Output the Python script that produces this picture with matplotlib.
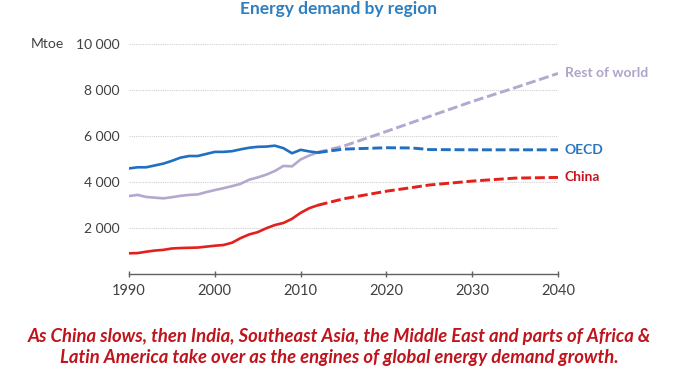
import matplotlib
matplotlib.use("Agg")
import matplotlib.pyplot as plt

# ---- data ----
hist_years = list(range(1990, 2013))
oecd_hist = [4590, 4640, 4640, 4720, 4800, 4920, 5060, 5130, 5130, 5220, 5310, 5310,
             5340, 5420, 5490, 5530, 5540, 5580, 5470, 5250, 5400, 5330, 5280]
row_hist = [3390, 3440, 3350, 3320, 3290, 3340, 3400, 3440, 3460, 3560, 3650, 3730,
            3820, 3920, 4100, 4200, 4320, 4480, 4700, 4680, 4980, 5150, 5290]
china_hist = [900, 910, 970, 1020, 1050, 1110, 1130, 1140, 1150, 1190, 1230, 1260,
              1360, 1560, 1720, 1820, 1990, 2130, 2220, 2400, 2660, 2860, 2990]

proj_years = [2012, 2015, 2020, 2023, 2025, 2030, 2035, 2040]
oecd_proj = [5280, 5430, 5490, 5480, 5410, 5400, 5400, 5400]
row_proj = [5290, 5560, 6200, 6590, 6850, 7500, 8100, 8720]
china_proj = [2990, 3270, 3600, 3760, 3870, 4040, 4170, 4200]

series_names = ["Rest of world", "OECD", "China"]
x_ticks = [1990, 2000, 2010, 2020, 2030, 2040]
y_ticks = [2000, 4000, 6000, 8000, 10000]
y_tick_labels = ["2 000", "4 000", "6 000", "8 000", "10 000"]

title = "Energy demand by region"
caption = ("As China slows, then India, Southeast Asia, the Middle East and parts of Africa &\n"
           "Latin America take over as the engines of global energy demand growth.")

plt.rcParams['font.family'] = ['Lato', 'DejaVu Sans']

c_oecd = "#1f6fc2"
c_row = "#b4a7d0"
c_china = "#e3201b"

fig = plt.figure(figsize=(6.78, 3.81), dpi=100)
ax = fig.add_axes([0.1903, 0.2808, 0.6327, 0.6037])

for yrs, vals, pv, col in [(hist_years, row_hist, row_proj, c_row),
                           (hist_years, oecd_hist, oecd_proj, c_oecd),
                           (hist_years, china_hist, china_proj, c_china)]:
    ax.plot(yrs, vals, color=col, lw=1.9, solid_capstyle='round')
    ax.plot(proj_years, pv, color=col, lw=2.1, dashes=(3.4, 1.3))

ax.set_xlim(1990, 2040)
ax.set_ylim(0, 10000)
for v in y_ticks:
    ax.axhline(v, color="#cfcfcf", lw=0.8, ls=(0, (1, 1)), zorder=0)

ax.set_xticks(x_ticks)
ax.set_xticklabels([str(t) for t in x_ticks], fontsize=10.5, color="#404040")
ax.set_yticks(y_ticks)
ax.set_yticklabels(y_tick_labels, fontsize=10, color="#404040")
ax.tick_params(axis='y', length=0, pad=7)
ax.tick_params(axis='x', direction='inout', length=5, width=1, color="#606060", pad=5)
for s in ['top', 'right', 'left']:
    ax.spines[s].set_visible(False)
ax.spines['bottom'].set_color("#606060")
ax.spines['bottom'].set_linewidth(1.0)

ax.text(-0.2285, 10000, "Mtoe", transform=ax.get_yaxis_transform(), fontsize=10,
        color="#404040", va='center', ha='left')

lab_cols = ["#b0a3c9", "#2874c0", "#c8141e"]
lab_vals = [row_proj[-1], oecd_proj[-1], china_proj[-1]]
for name, v, col in zip(series_names, lab_vals, lab_cols):
    ax.annotate(name, xy=(2040, v), xytext=(5, 0), textcoords='offset points',
                fontsize=10, fontweight='bold', color=col, va='center', ha='left',
                annotation_clip=False)

fig.text(0.499, 0.977, title, fontsize=12.5, fontweight='bold', color="#2e7fc0",
         ha='center', va='center')
fig.text(0.5, 0.09, caption, fontsize=13.3, fontweight='bold', fontstyle='italic',
         color="#c0141c", ha='center', va='center', linespacing=1.3)

fig.savefig("out.png", dpi=100)
